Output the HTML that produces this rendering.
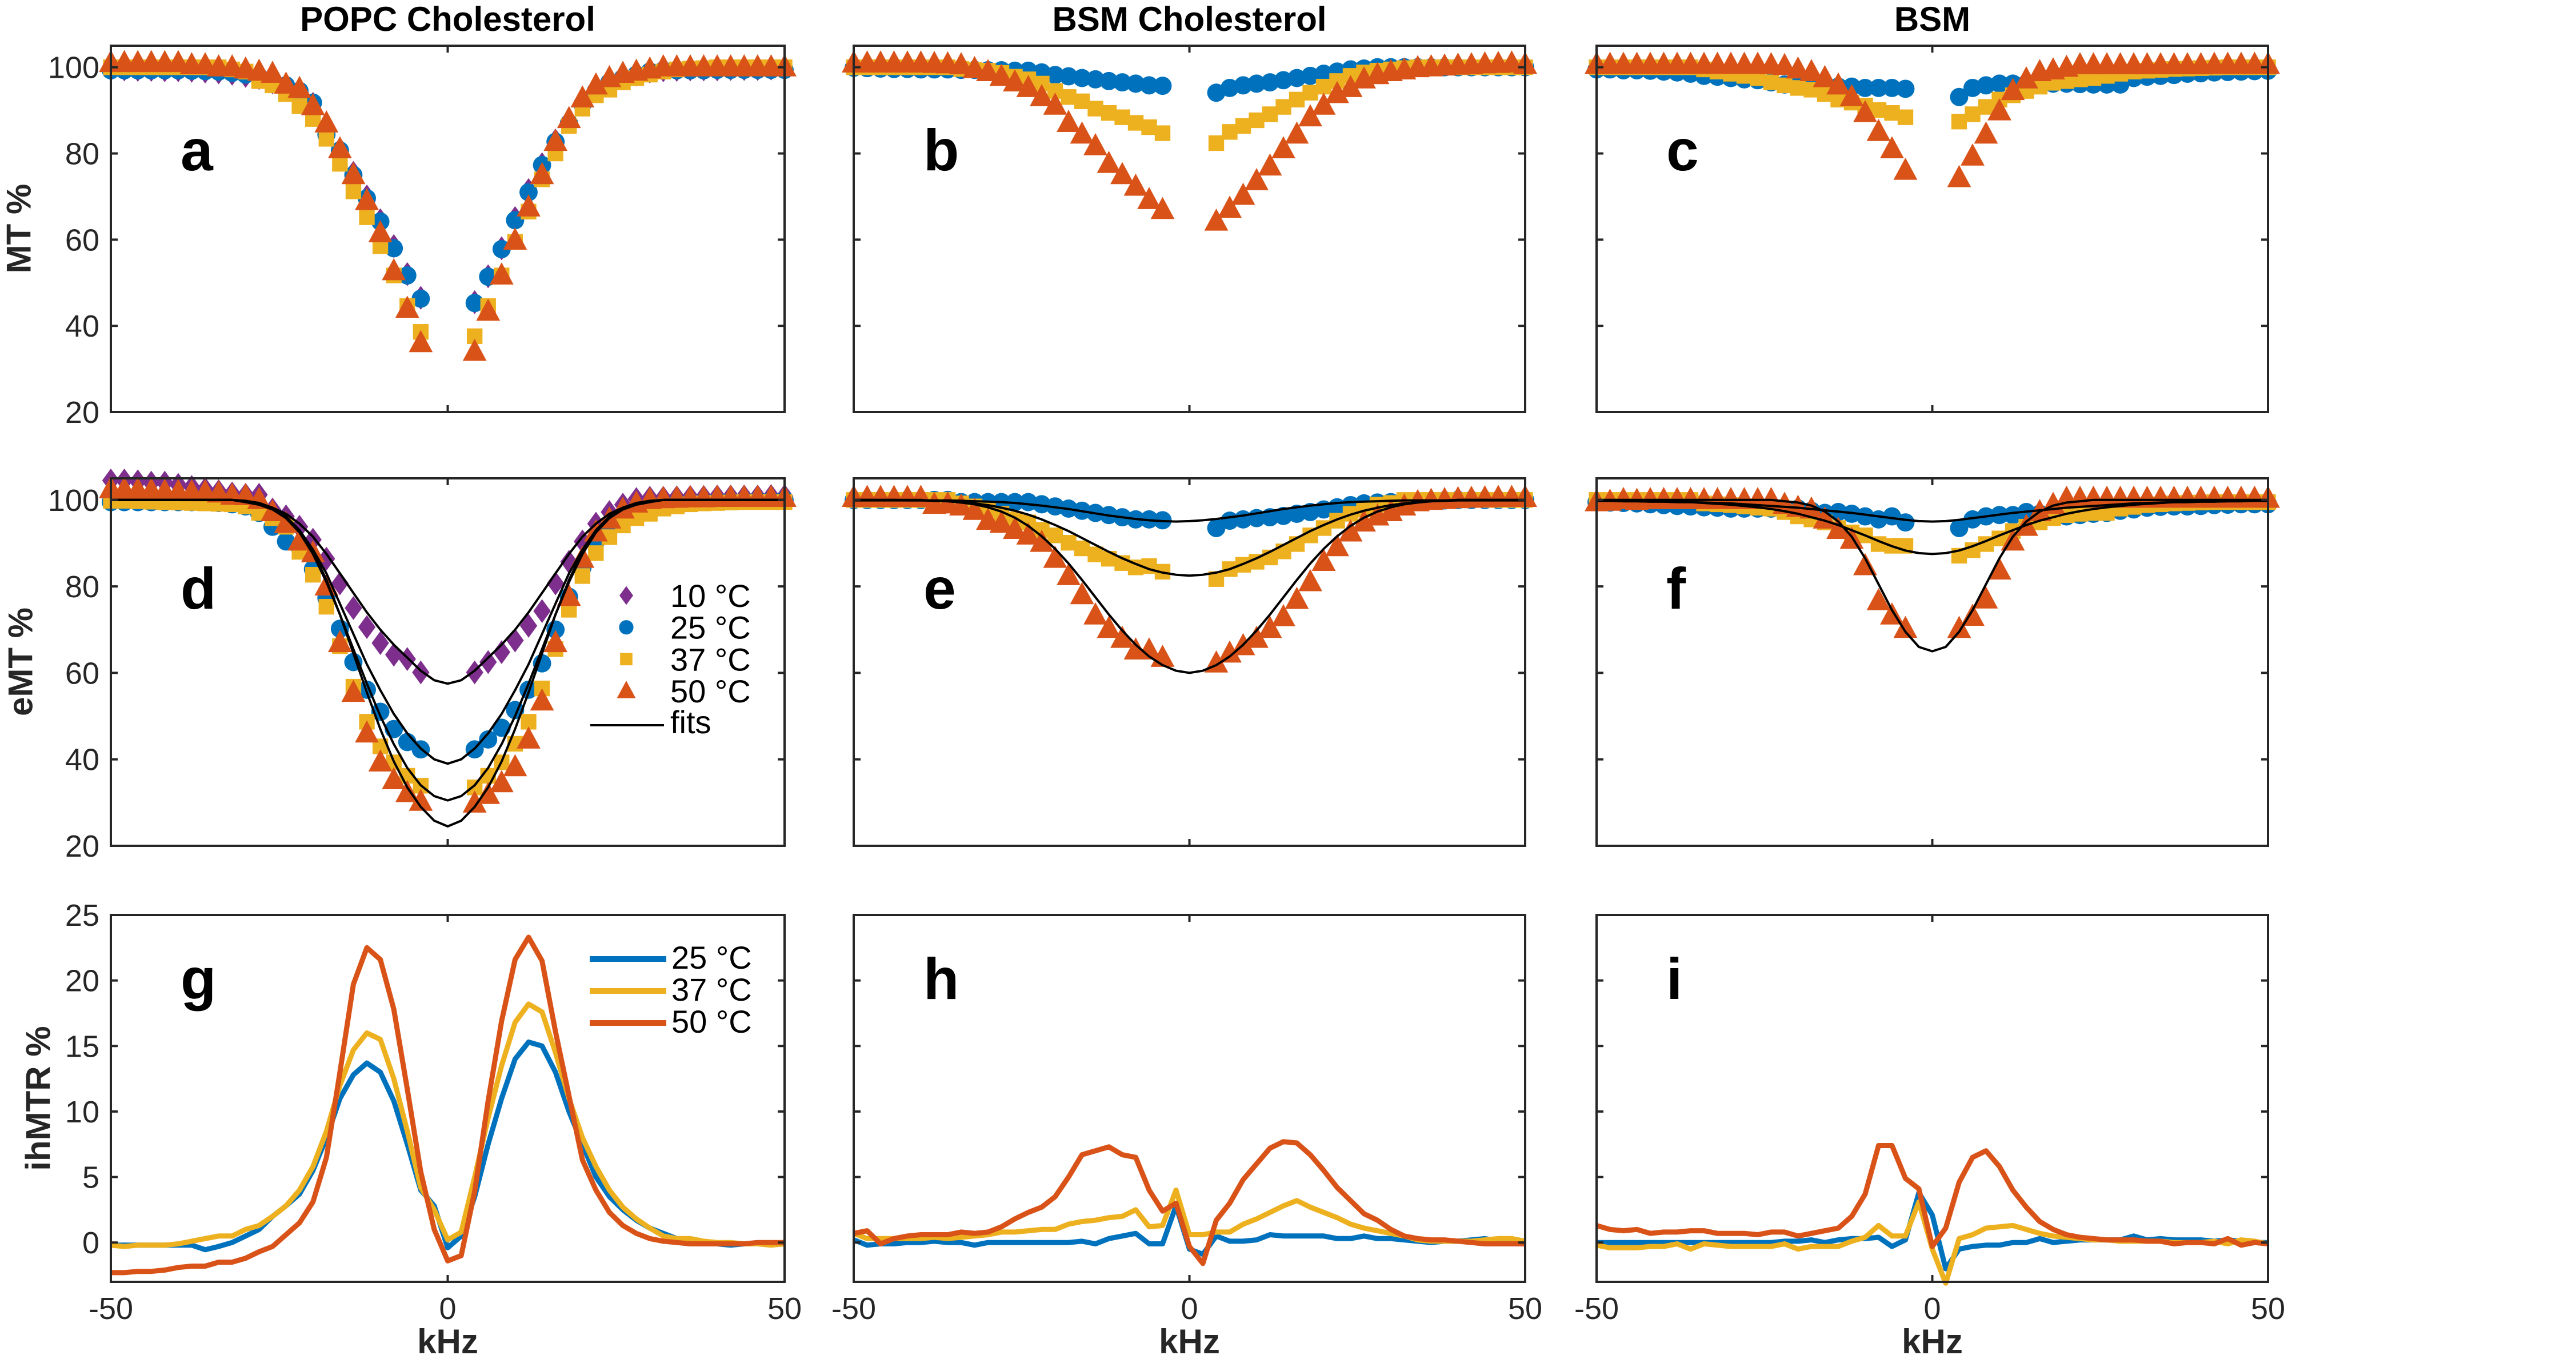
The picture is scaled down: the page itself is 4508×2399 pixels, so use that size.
<!DOCTYPE html>
<html><head><meta charset="utf-8"><style>
html,body{margin:0;padding:0;background:#fff}
svg{display:block}
text{font-family:"Liberation Sans",Arial,sans-serif}
</style></head><body>
<svg id="fig" xmlns="http://www.w3.org/2000/svg" width="4508" height="2399" viewBox="0 0 4508 2399"></svg>
<script>
// ---------- data ----------
const xL = [-50,-48,-46,-44,-42,-40,-38,-36,-34,-32,-30,-28,-26,-24,-22,-20,-18,-16,-14,-12,-10,-8,-6,-4];
const xR = [4,6,8,10,12,14,16,18,20,22,24,26,28,30,32,34,36,38,40,42,44,46,48,50];
const xFull = [-50,-48,-46,-44,-42,-40,-38,-36,-34,-32,-30,-28,-26,-24,-22,-20,-18,-16,-14,-12,-10,-8,-6,-4,-2,0,2,4,6,8,10,12,14,16,18,20,22,24,26,28,30,32,34,36,38,40,42,44,46,48,50];
const yTicksMT = [20,40,60,80,100];
const yTicksIh = [0,5,10,15,20,25];
const xTicks = [-50,0,50];

// panel a (MT %)
const a10 = [99.5,99.5,99.4,99.4,99.3,99.3,99.2,99,98.8,98.5,98,97.5,96.5,95,93,91.5,85,81,75.5,70,64.5,58.5,52,46.5, 45.5,51.5,58,65,71.5,77.5,83,87.5,91.5,94.5,96.5,97.5,98.3,99,99.3,99.4,99.5,99.5,99.5,99.6,99.6,99.6,99.7,99.7];
const a25 = [99.3,99.3,99.3,99.3,99.3,99.3,99.2,99.1,99,98.7,98.3,97.8,97,95.8,94.5,91.8,84.4,80.7,75,69.6,64.2,58,51.7,46.3, 45.3,51.4,57.8,64.5,71,77.3,82.7,87,91.4,94.5,96.5,97.5,98.3,99,99.3,99.3,99.3,99.3,99.4,99.4,99.4,99.4,99.4,99.4];
const a37 = [100,100,100,100,100,100,100,100,100,99.5,99,96.8,95.8,93.8,91,88,83.4,77.6,71.2,65.2,58.5,51.7,44.6,38.6, 37.6,44.6,51.7,59.5,66.5,74,80,86.4,90.4,93.5,94.8,96.5,97.5,98.3,99,99.5,99.7,99.8,100,100,100,100,100,100];
const a50 = [101,101,101,101,101,101,100.5,100.5,100,100,99.5,99,98.5,96,95,91,87,81,75,69,61.5,52.7,44,36, 34,43.3,51.7,59.8,67.5,75,82.7,88,92.8,95.8,97.5,98.5,99,99.5,100,100,100,100,100,100,100,100,100,100];
// panel b
const b25 = [99.9,99.8,99.7,99.6,99.6,99.5,99.5,99.5,99.4,99.4,99.3,99.3,99.2,99.2,98.8,98.2,97.9,97.5,97.2,96.8,96.5,96.2,95.8,95.7, 94.1,95.2,95.8,96.2,96.5,97,97.5,98,98.5,99,99.5,99.7,100,100,100,100,100,100,100,100,100,100,100,100];
const b37 = [100,100,100,100,100,100,100,100,99.6,99.4,99.2,98.7,97.8,97.2,96.2,94.5,93.1,92.1,90.4,89.4,88.4,87.1,86.1,84.7, 82.4,85,86.4,87.7,89.1,90.8,92.5,94.1,95.5,96.8,98,98.8,99.2,99.5,99.8,100,100,100,100,100,100,100,100,100];
const b50 = [100.9,100.9,100.9,100.9,100.9,100.9,100.8,100.7,100.5,99.6,98.9,97.8,96.5,95.2,93.1,91.1,87.1,84.4,81.7,77.6,75,72.3,69.2,66.9, 64.2,67.2,70.2,73.6,77,81,84.4,88.4,91.1,93.8,95.2,97.2,98.2,98.9,99.3,99.8,100,100.2,100.4,100.5,100.7,100.8,100.9,100.6];
// panel c
const c25 = [99.5,99.5,99.3,99.3,99.2,99,98.8,98.5,98,97.8,97.5,97.2,97,96.5,96,95.8,95.8,95.6,95.5,95.5,95.2,95.2,95.2,95, 93.1,95.2,95.8,96.2,96.2,96.2,96.2,96.2,96.2,96.1,96,96,96,97.5,97.8,98,98.2,98.5,98.6,98.8,98.9,99,99.1,99.2];
const c37 = [100,100,100,100,100,100,100,100,99.5,99,98.5,98,97.5,96.5,95.8,95.2,94.8,93.8,92.5,91.8,91.1,90.1,89.4,88.4, 87.4,89.1,90.8,92.5,93.5,94.5,95.5,96.4,96.8,97.2,97.5,98,98.5,99,99.2,99.4,99.6,99.7,99.8,99.9,100,100,100,100];
const c50 = [100.6,100.6,100.6,100.6,100.6,100.6,100.6,100.6,100.6,100.6,100.6,100.6,100.6,100.5,100.3,99.5,98.9,97.5,95.8,93.1,89.4,85,81,76, 74.3,79.3,84.4,89.8,94.5,97.2,98.9,99.3,99.9,100.5,100.5,100.5,100.5,100.5,100.5,100.5,100.5,100.5,100.5,100.6,100.6,100.6,100.6,100.6];
// panel d (eMT %)
const d10 = [104.5,104.5,104.3,104,104,103.5,103,102.5,102,101.5,101.2,101.2,97.8,96.2,93.8,90.8,86.4,80.7,75,70.6,66.9,64.2,63.2,60.1, 60.1,62.5,64.8,67.5,70.9,74.3,80.7,85.7,90.4,94.5,97.2,98.9,100.2,100.5,100.5,100.6,100.7,100.7,100.8,100.8,100.8,100.8,100.9,100.9];
const d25 = [99.5,99.5,99.5,99.5,99.5,99.5,99.5,99.5,99.3,99,98.5,97,93.8,90.4,89.1,84,77.3,70.2,62.5,56.1,51,47,44,42.3, 42.3,44.6,47.3,51.4,56.1,62.2,70,77.6,84.4,90.4,93.5,95.8,97.2,98.2,99,99.3,99.5,99.6,99.7,99.8,99.8,99.9,99.9,100];
const d37 = [99.8,99.8,99.7,99.6,99.5,99.4,99.3,99.2,99.1,99,98.5,97,95.8,93.8,88,82.7,75.3,66.2,56.8,48.7,43,39.3,36.2,33.9, 33.5,36.2,39.3,43.6,48.7,56.4,65.5,74.6,82.4,87.7,91.4,94.1,95.8,96.8,98,98.5,99,99.2,99.3,99.4,99.5,99.5,99.5,99.5];
const d50 = [102.5,102.4,102.3,102.2,102,101.9,101.8,101.8,101.5,101,100.9,100,97.2,94.5,90.4,87.7,80,66.9,55.4,46,39.3,35.2,32.2,30.2, 29.8,31.8,34.5,38.2,44.6,53.4,66.9,77.6,86.4,92.5,95.5,97.8,99.2,100,100.2,100.3,100.4,100.4,100.5,100.5,100.5,100.5,100.5,100.5];
const dFit10 = [100,100,100,100,100,100,100,100,100,100,99.6,99.1,98.2,96.8,94.5,91.5,87.5,83,78.5,74,70,66.5,63.5,60.5,58.3,57.5,58.3,60.5,63.5,66.5,70,74,78.5,83,87.5,91.5,94.5,96.8,98.2,99.1,99.6,100,100,100,100,100,100,100,100,100,100];
const dFit25 = [100,100,100,100,100,100,100,100,100,100,99.5,98.9,97.8,96,93,88.5,83,76,69,62,56,50.5,46,42.5,40,39,40,42.5,46,50.5,56,62,69,76,83,88.5,93,96,97.8,98.9,99.5,100,100,100,100,100,100,100,100,100,100];
const dFit37 = [100,100,100,100,100,100,100,100,100,100,99.6,99,97.8,95.8,92.5,87.5,81,73.5,65.5,57.5,50,43.5,38,34,31.5,30.5,31.5,34,38,43.5,50,57.5,65.5,73.5,81,87.5,92.5,95.8,97.8,99,99.6,100,100,100,100,100,100,100,100,100,100];
const dFit50 = [100,100,100,100,100,100,100,100,100,100,99.8,99.3,98.2,96.2,93,88,81.5,73.5,64.5,55.5,47,39.5,33.5,29,25.8,24.5,25.8,29,33.5,39.5,47,55.5,64.5,73.5,81.5,88,93,96.2,98.2,99.3,99.8,100,100,100,100,100,100,100,100,100,100];
// panel e
const e25 = [100,100,100,100,100,100,100,100,99.5,99.5,99.5,99.5,99.5,99.5,99,98.5,98,97.5,97,96.5,96,95.5,95.5,95.3, 93.5,95.2,95.5,95.8,96,96.3,96.8,97.2,97.8,98.3,98.8,99.2,99.4,99.5,99.6,99.7,99.8,99.9,100,100,100,100,100,100];
const e37 = [100,100,100,100,100,100,100,100,99.2,98.5,97.8,96.8,95.5,94.8,93.1,91.8,90.1,88.8,87.4,86.4,85.4,84.4,84.7,83.4, 81.7,84,85,85.7,86.7,88.1,89.8,91.8,93.5,95.2,96.8,97.8,98.9,99.3,100,100,100,100,100,100,100,100,100,100];
const e50 = [100.5,100.5,100.5,100.5,100.5,100.5,98.9,99,98.5,97.5,95.2,94.5,93.1,91.8,90.1,86.4,82.4,78,73.3,70.2,67.9,65.2,65.2,63.5, 62.2,64.5,66.2,67.9,70.2,72.9,76.9,81,85.7,89.1,92.5,94.8,96.2,97.2,98.5,99.5,99.8,100,100.2,100.3,100.4,100.5,100.5,100.5];
const eFit25 = [100,100,100,100,99.9,99.9,99.9,99.9,99.8,99.7,99.6,99.5,99.3,99,98.7,98.3,97.9,97.4,96.9,96.4,96,95.6,95.3,95.1,95,95.1,95.3,95.6,96,96.4,96.9,97.4,97.9,98.3,98.7,99,99.3,99.5,99.6,99.7,99.8,99.9,99.9,99.9,99.9,100,100,100,100,100,100];
const eFit37 = [99.9,99.9,99.9,99.9,99.9,99.9,99.8,99.7,99.5,99.2,98.8,98.2,97.5,96.6,95.5,94.2,92.8,91.2,89.6,88,86.5,85.2,84,83.2,82.7,82.5,82.7,83.2,84,85.2,86.5,88,89.6,91.2,92.8,94.2,95.5,96.6,97.5,98.2,98.8,99.2,99.5,99.7,99.8,99.9,99.9,99.9,99.9,99.9,99.9];
const eFit50 = [100,100,100,100,100,100,99.8,99.7,99.4,99,98.3,97.3,95.9,94,91.6,88.7,85.3,81.5,77.5,73.5,69.8,66.5,63.8,61.8,60.5,60,60.5,61.8,63.8,66.5,69.8,73.5,77.5,81.5,85.3,88.7,91.6,94,95.9,97.3,98.3,99,99.4,99.7,99.8,100,100,100,100,100,100];
// panel f
const f25 = [99.5,99.4,99.3,99.2,99,98.8,98.6,98.5,98.3,98.2,98,98,98,98,98,98,97.5,97,97.2,96.8,96.2,95.5,96.2,94.8, 93.5,95.5,96.2,96.5,96.5,97.2,96.8,96.8,96.2,96.5,96.8,97,97.5,97.8,98.2,98.4,98.5,98.5,98.6,98.8,98.9,99,99,99];
const f37 = [100,100,100,100,100,100,100,100,99.2,99,98.8,98.5,98.2,98,97.2,96.2,95.5,94.8,93.5,92.5,91.8,89.8,89.4,89.4, 87.1,88.4,89.8,91.1,92.8,93.8,94.8,95.8,96.5,96.8,97,97,98,98.4,98.8,99,99.2,99.3,99.4,99.5,99.5,99.5,99.5,99.5];
const f50 = [99.5,99.6,100,99.8,100,100,100,100,100,100,100,100,100,100,98.9,98.2,97.8,95.5,93.1,90.8,84.7,76.6,73.3,70.2, 70.2,73,77,83.7,90.4,93.8,97.2,98.9,100.3,100.3,100.3,100.3,100.3,100.3,100.3,100.3,100.3,100.3,100.3,100.3,100.3,100.3,100.3,100.3];
const fFit25 = [99.8,99.8,99.7,99.7,99.6,99.6,99.5,99.5,99.4,99.3,99.2,99,98.8,98.6,98.4,98.2,97.9,97.6,97.3,97,96.6,96.2,95.8,95.4,95.1,95,95.1,95.4,95.8,96.2,96.6,97,97.3,97.6,97.9,98.2,98.4,98.6,98.8,99,99.2,99.3,99.4,99.5,99.5,99.6,99.6,99.7,99.7,99.8,99.8];
const fFit37 = [99.8,99.8,99.7,99.7,99.6,99.6,99.5,99.5,99.3,99.1,98.9,98.6,98.3,97.9,97.4,96.8,96,95.2,94.2,93,91.8,90.5,89.3,88.3,87.7,87.5,87.7,88.3,89.3,90.5,91.8,93,94.2,95.2,96,96.8,97.4,97.9,98.3,98.6,98.9,99.1,99.3,99.5,99.5,99.6,99.6,99.7,99.7,99.8,99.8];
const fFit50 = [100,100,100,100,100,100,100,100,100,100,100,100,100,100,99.7,99.4,98.7,97.3,95,91.5,86.5,80.5,74.5,69.5,66,65,66,69.5,74.5,80.5,86.5,91.5,95,97.3,98.7,99.4,99.7,100,100,100,100,100,100,100,100,100,100,100,100,100,100];
// panels g,h,i (ihMTR %)
const g25 = [-0.2,-0.2,-0.2,-0.2,-0.2,-0.2,-0.2,-0.55,-0.3,0,0.5,1,2,2.8,3.7,5.5,8,11,12.8,13.7,13,10.8,7.5,4,2.8,-0.4,0.5,3.5,7.5,11,14,15.3,15,13,10,7.5,5,3.5,2.5,1.7,1.1,0.7,0.3,0.1,0,-0.1,-0.2,-0.1,-0.1,-0.1,0];
const g37 = [-0.2,-0.3,-0.2,-0.2,-0.2,-0.1,0.1,0.3,0.5,0.5,1,1.3,2,2.8,4,5.8,8.5,12,14.7,16,15.5,12.5,8.5,4.2,2.5,0.2,0.8,5,9.5,13.5,16.8,18.2,17.6,14.5,11,8,5.8,4,2.7,1.8,1.1,0.5,0.3,0.3,0.1,0,0,-0.1,-0.1,-0.2,-0.1];
const g50 = [-2.3,-2.3,-2.2,-2.2,-2.1,-1.9,-1.8,-1.8,-1.5,-1.5,-1.2,-0.7,-0.3,0.6,1.5,3.1,6.5,13,19.7,22.5,21.6,17.8,11.7,5.4,1,-1.4,-1,3.9,10.8,16.9,21.6,23.3,21.5,16.1,11.2,6.3,4,2.3,1.3,0.7,0.3,0.1,0,-0.1,-0.1,-0.1,-0.1,-0.1,0,0,0];
const h25 = [0.2,-0.2,-0.1,-0.1,0,0,0.1,0,0,-0.2,0,0,0,0,0,0,0,0.1,-0.1,0.3,0.5,0.7,-0.1,-0.1,2.8,-0.5,-0.9,0.5,0.1,0.1,0.2,0.6,0.5,0.5,0.5,0.5,0.3,0.3,0.5,0.3,0.3,0.2,0.1,0,0.1,0.1,0.2,0.3,0.1,0.2,-0.1];
const h37 = [0.7,0.3,0.3,0.3,0.3,0.3,0.4,0.3,0.4,0.5,0.6,0.8,0.8,0.9,1,1,1.4,1.6,1.7,1.9,2,2.5,1.2,1.3,4,0.6,0.6,0.8,0.8,1.4,1.8,2.3,2.8,3.2,2.7,2.3,1.9,1.4,1.1,0.9,0.7,0.5,0.2,0.1,0.1,0.1,0.1,0.2,0.3,0.3,0.1];
const h50 = [0.7,0.9,-0.1,0.3,0.5,0.6,0.6,0.6,0.8,0.7,0.8,1.2,1.8,2.3,2.7,3.5,5,6.7,7,7.3,6.7,6.5,4,2.4,3,-0.3,-1.6,1.7,3,4.8,6,7.2,7.7,7.6,6.7,5.5,4.2,3.2,2.2,1.7,1,0.5,0.3,0.2,0.2,0.1,0,-0.1,-0.1,-0.1,-0.1];
const i25 = [0,0,0,0,0,0,0,0,0,0,0,0,0,0,0.1,0.1,0.2,0,0.2,0.3,0.3,0.4,-0.3,0.2,3.8,2.1,-2,-0.5,-0.3,-0.2,-0.2,0,0,0.3,0,0.1,0.2,0.2,0.2,0.2,0.5,0.2,0.3,0.2,0.2,0.2,0.1,0.2,0.1,0,0];
const i37 = [-0.2,-0.4,-0.4,-0.4,-0.3,-0.3,-0.1,-0.5,-0.1,-0.2,-0.3,-0.3,-0.3,-0.3,-0.1,-0.5,-0.3,-0.3,-0.3,0.1,0.4,1.3,0.5,0.5,3.1,-0.5,-3.1,0.3,0.6,1.1,1.2,1.3,1,0.7,0.5,0.4,0.3,0.2,0.2,0.1,0.1,0.1,0.1,0,0,0,0.1,-0.1,0.2,0.1,-0.1];
const i50 = [1.3,1,0.9,1,0.7,0.8,0.8,0.9,0.9,0.7,0.7,0.7,0.6,0.8,0.8,0.5,0.7,0.9,1.1,2,3.7,7.4,7.4,4.9,4.1,-0.3,1.1,4.6,6.5,7,5.8,4,2.7,1.6,1,0.6,0.4,0.3,0.2,0.2,0.2,0.1,0.1,-0.1,0,0,-0.1,0.3,-0.2,0,-0.1];

// ---------- layout ----------
const COLS = [{l:194,r:1373},{l:1494,r:2669},{l:2794,r:3969}];
const ROWS = [{t:80,b:721,min:20,max:105},{t:837,b:1480,min:20,max:105},{t:1601,b:2243,min:-3,max:25}];
const C = {p:'#7E2F8E',b:'#0072BD',y:'#EDB120',o:'#D95319'};
const svg = document.getElementById('fig');
const NS = 'http://www.w3.org/2000/svg';
function mk(tag, attrs, parent){const e=document.createElementNS(NS,tag);for(const k in attrs)e.setAttribute(k,attrs[k]);(parent||svg).appendChild(e);return e;}
function sx(col,x){const c=COLS[col];return c.l+(x+50)/100*(c.r-c.l);}
function sy(row,v){const r=ROWS[row];return r.b-(v-r.min)/(r.max-r.min)*(r.b-r.t);}

function marker(g,shape,cx,cy,color,s){
  let e;
  if(shape==='tri'){e=mk('polygon',{points:`${cx},${cy-s*0.6} ${cx+s*0.55},${cy+s*0.42} ${cx-s*0.55},${cy+s*0.42}`,fill:color},g);}
  else if(shape==='circ'){e=mk('circle',{cx:cx,cy:cy,r:s*0.42,fill:color},g);}
  else if(shape==='sq'){e=mk('rect',{x:cx-s*0.36,y:cy-s*0.36,width:s*0.72,height:s*0.72,fill:color},g);}
  else {e=mk('polygon',{points:`${cx},${cy-s*0.55} ${cx+s*0.4},${cy} ${cx},${cy+s*0.55} ${cx-s*0.4},${cy}`,fill:color},g);}
  return e;
}
function scatter(col,row,vals,shape,color,name){
  const g=mk('g',{});
  
  
  const xs=xL.concat(xR);
  xs.forEach((x,i)=>{
    const m=marker(g,shape,sx(col,x),sy(row,vals[i]),color,38);
    
    
  });
}
function line(col,row,xs,vals,color,w,name){
  const pts=xs.map((x,i)=>sx(col,x).toFixed(1)+','+sy(row,vals[i]).toFixed(1)).join(' ');
  const e=mk('polyline',{points:pts,fill:'none',stroke:color,'stroke-width':w,'stroke-linejoin':'round'});
  
  
}
function txt(x,y,s,attrs,name){
  const e=mk('text',Object.assign({x:x,y:y},attrs||{}));e.textContent=s;
  
  
  return e;
}
function axes(col,row,letter){
  const c=COLS[col],r=ROWS[row];
  const ticks=row===2?yTicksIh:yTicksMT;
  const g=mk('g',{});
  
  
  mk('rect',{x:c.l,y:r.t,width:c.r-c.l,height:r.b-r.t,fill:'none',stroke:'#262626','stroke-width':4},g);
  ticks.forEach(t=>{const y=sy(row,t);
    mk('line',{x1:c.l,x2:c.l+12,y1:y,y2:y,stroke:'#262626','stroke-width':4},g);
    mk('line',{x1:c.r,x2:c.r-12,y1:y,y2:y,stroke:'#262626','stroke-width':4},g);
    if(col===0) txt(c.l-20,y+19,String(t),{'font-size':54,'text-anchor':'end',fill:'#262626'},'y-tick-label');
  });
  xTicks.forEach(t=>{const x=sx(col,t);
    mk('line',{x1:x,x2:x,y1:r.b,y2:r.b-12,stroke:'#262626','stroke-width':4},g);
    mk('line',{x1:x,x2:x,y1:r.t,y2:r.t+12,stroke:'#262626','stroke-width':4},g);
    if(row===2) txt(x,2308,String(t),{'font-size':54,'text-anchor':'middle',fill:'#262626'},'x-tick-label');
  });
  if(row===2) txt((c.l+c.r)/2,2368,'kHz',{'font-size':60,'font-weight':'bold','text-anchor':'middle',fill:'#262626'},'x-axis-title');
  const lb=[298,1065,1748][row];
  txt(c.l+122,lb,letter,{'font-size':102,'font-weight':'bold',fill:'#000'},'panel-label-'+letter);
}

// titles
['POPC Cholesterol','BSM Cholesterol','BSM'].forEach((t,i)=>txt((COLS[i].l+COLS[i].r)/2,54,t,{'font-size':60,'font-weight':'bold','text-anchor':'middle'},'column-title'));
// y axis titles
[['MT %',33,400],['eMT %',36,1158],['ihMTR %',67,1922]].forEach(a=>txt(a[1],a[2],a[0],{'font-size':60,'font-weight':'bold','text-anchor':'middle','dominant-baseline':'central',fill:'#262626',transform:`rotate(-90 ${a[1]} ${a[2]})`},'y-axis-title'));

// row 1
scatter(0,0,a10,'dia',C.p,'series-10c');scatter(0,0,a25,'circ',C.b,'series-25c');scatter(0,0,a37,'sq',C.y,'series-37c');scatter(0,0,a50,'tri',C.o,'series-50c');
scatter(1,0,b25,'circ',C.b,'series-25c');scatter(1,0,b37,'sq',C.y,'series-37c');scatter(1,0,b50,'tri',C.o,'series-50c');
scatter(2,0,c25,'circ',C.b,'series-25c');scatter(2,0,c37,'sq',C.y,'series-37c');scatter(2,0,c50,'tri',C.o,'series-50c');
// row 2
scatter(0,1,d10,'dia',C.p,'series-10c');scatter(0,1,d25,'circ',C.b,'series-25c');scatter(0,1,d37,'sq',C.y,'series-37c');scatter(0,1,d50,'tri',C.o,'series-50c');
[dFit10,dFit25,dFit37,dFit50].forEach(f=>line(0,1,xFull,f,'#000',4,'fit-line'));
scatter(1,1,e25,'circ',C.b,'series-25c');scatter(1,1,e37,'sq',C.y,'series-37c');scatter(1,1,e50,'tri',C.o,'series-50c');
[eFit25,eFit37,eFit50].forEach(f=>line(1,1,xFull,f,'#000',4,'fit-line'));
scatter(2,1,f25,'circ',C.b,'series-25c');scatter(2,1,f37,'sq',C.y,'series-37c');scatter(2,1,f50,'tri',C.o,'series-50c');
[fFit25,fFit37,fFit50].forEach(f=>line(2,1,xFull,f,'#000',4,'fit-line'));
// row 3
[[g25,g37,g50],[h25,h37,h50],[i25,i37,i50]].forEach((s,col)=>{
  line(col,2,xFull,s[0],C.b,9,'ihmtr-25c');line(col,2,xFull,s[1],C.y,9,'ihmtr-37c');line(col,2,xFull,s[2],C.o,9,'ihmtr-50c');
});
// axes on top
['a','b','c','d','e','f','g','h','i'].forEach((l,i)=>axes(i%3,Math.floor(i/3),l));

// legend d
const lg=mk('g',{});


const legShapes=[['dia',C.p,'10 °C'],['circ',C.b,'25 °C'],['sq',C.y,'37 °C'],['tri',C.o,'50 °C']];
legShapes.forEach((s,i)=>{const by=1062+i*55.7;marker(lg,s[0],1096,by-20,s[1],30);txt(1173,by,s[2],{'font-size':56},'legend-entry');});
mk('line',{x1:1033,x2:1162,y1:1269,y2:1269,stroke:'#000','stroke-width':4},lg);
txt(1173,1283,'fits',{'font-size':56},'legend-entry');
// legend g
const lg2=mk('g',{});


[[C.b,'25 °C'],[C.y,'37 °C'],[C.o,'50 °C']].forEach((s,i)=>{const ly=1678+i*56;mk('line',{x1:1032,x2:1166,y1:ly,y2:ly,stroke:s[0],'stroke-width':10},lg2);txt(1175,ly+17,s[1],{'font-size':56},'legend-entry');});
</script>
</body></html>
